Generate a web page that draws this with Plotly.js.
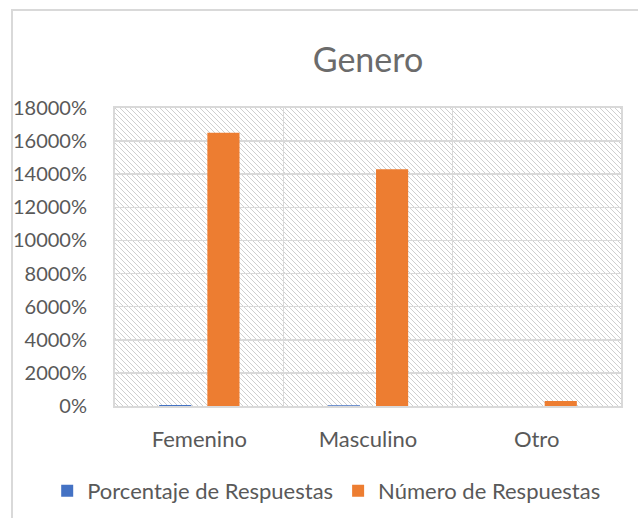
<!DOCTYPE html>
<html>
<head>
<meta charset="utf-8">
<script src="https://cdn.plot.ly/plotly-3.0.1.min.js"></script>
<style>
html,body{margin:0;padding:0;background:#fff;overflow:hidden;width:638px;height:518px;}
#frame{position:absolute;left:11px;top:9px;width:627px;height:509px;border-left:2px solid #d9d9d9;border-top:2px solid #d9d9d9;pointer-events:none;box-sizing:border-box;}
#chart{position:absolute;left:0;top:0;width:638px;height:518px;}
</style>
</head>
<body>
<div id="chart"></div>
<div id="frame"></div>
<script>
const categories = ["Femenino", "Masculino", "Otro"];
const porcentajeRespuestas = [0.5305, 0.4598, 0.0096];
const numeroRespuestas = [165, 143, 3];
const seriesNames = ["Porcentaje de Respuestas", "Número de Respuestas"];
const yTickValues = [0, 20, 40, 60, 80, 100, 120, 140, 160, 180];

const plotW = 506, plotH = 298;
const svg = `<svg xmlns="http://www.w3.org/2000/svg" width="${plotW}" height="${plotH}">
<defs><pattern id="p" width="5" height="5" patternUnits="userSpaceOnUse">
<path d="M0,0 L5,5 M-1,4 L1,6 M4,-1 L6,1" stroke="#cfcfcf" stroke-width="1.3" shape-rendering="crispEdges"/>
</pattern></defs>
<rect width="100%" height="100%" fill="#ffffff"/>
<rect width="100%" height="100%" fill="url(#p)"/>
</svg>`;
const hatch = "data:image/svg+xml;charset=utf-8," + encodeURIComponent(svg);

const font = "Lato, 'Open Sans', sans-serif";
const data = [
  {type: "bar", name: seriesNames[0], x: categories, y: porcentajeRespuestas, marker: {color: "#4472C4"}},
  {type: "bar", name: seriesNames[1], x: categories, y: numeroRespuestas, marker: {color: "#ED7D31"}}
];
const layout = {
  width: 638, height: 518,
  margin: {l: 115, r: 17, t: 108, b: 112, autoexpand: false},
  paper_bgcolor: "rgba(0,0,0,0)",
  plot_bgcolor: "#ffffff",
  barmode: "group",
  bargap: 0.4286,
  bargroupgap: 0.333,
  font: {family: font, color: "#595959", size: 20},
  title: {text: "Genero", x: 0.5, xref: "paper", xanchor: "center", y: 1 - 60/518, yref: "container", yanchor: "middle", font: {family: font, size: 34, color: "#6b6b6b"}},
  xaxis: {
    type: "category", tickson: "boundaries", showgrid: true, gridcolor: "#d9d9d9", gridwidth: 1.5,
    ticks: "", showline: true, mirror: true, linecolor: "#d9d9d9", linewidth: 2, automargin: false,
    ticklabelstandoff: 13, tickfont: {size: 22, color: "#595959"}, fixedrange: true
  },
  yaxis: {
    range: [0, 180], tickvals: yTickValues, tickformat: ".0%",
    showgrid: true, gridcolor: "#d9d9d9", gridwidth: 1.5, zeroline: false, automargin: false,
    ticks: "", showline: true, mirror: true, linecolor: "#d9d9d9", linewidth: 2,
    ticklabelstandoff: 22, tickfont: {size: 20, color: "#595959"}, fixedrange: true
  },
  images: [{source: hatch, xref: "paper", yref: "paper", x: 0, y: 1, sizex: 1, sizey: 1, xanchor: "left", yanchor: "top", sizing: "stretch", layer: "below"}],
  showlegend: true,
  legend: {orientation: "h", x: -0.134, xanchor: "left", y: (406 - 491) / 298, yanchor: "middle", font: {size: 22, color: "#595959"}, traceorder: "normal", itemwidth: 30},
};
Plotly.newPlot("chart", data, layout, {displayModeBar: false, staticPlot: true});
</script>
</body>
</html>
